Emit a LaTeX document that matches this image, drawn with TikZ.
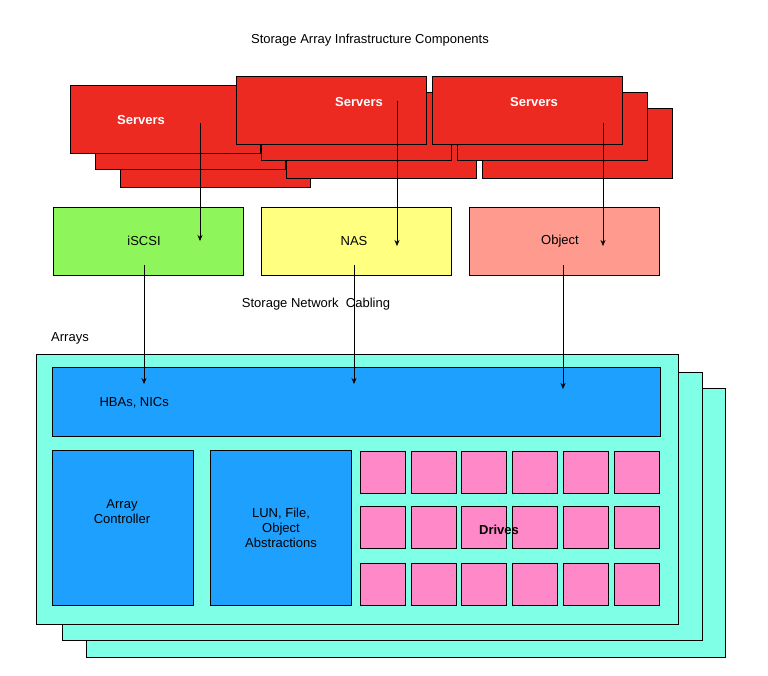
\documentclass[tikz,border=0pt]{standalone}
\usepackage{fontspec}
\setmainfont{Liberation Sans}
\usetikzlibrary{arrows.meta}
\definecolor{srvred}{HTML}{EC2A22}
\definecolor{iscsig}{HTML}{8EF55A}
\definecolor{nasy}{HTML}{FFFF80}
\definecolor{objr}{HTML}{FF9A8F}
\definecolor{arrc}{HTML}{7FFFE6}
\definecolor{hbab}{HTML}{1EA0FF}
\definecolor{drvp}{HTML}{FF88C8}
\begin{document}
\begin{tikzpicture}[x=1pt, y=-1pt, font=\fontsize{13}{15}\selectfont,
  box/.style={draw, line width=0.6pt},
  server/.style={box, fill=srvred},
  arr/.style={-{Stealth[length=6pt,width=5pt]}, line width=0.6pt}]
  \useasboundingbox (0,0) rectangle (768,675);
  \node (title) at (370,40) {Storage Array Infrastructure Components};
  % servers
  \foreach \gx/\gy/\tx/\ty in {70/85/141/120, 236/76/359/102, 432/76/534/102}{
    \draw[server] (\gx+50,\gy+32) rectangle +(190,70);
    \draw[server] (\gx+25,\gy+16) rectangle +(190,68);
    \draw[server] (\gx,\gy) rectangle +(190,68);
    \node[text=white, font=\fontsize{13}{15}\selectfont\bfseries] at (\tx,\ty) {Servers};
  }
  \coordinate (s1) at (200,123);
  \coordinate (s2) at (397,101);
  \coordinate (s3) at (603,123);
  % protocols
  \draw[box, fill=iscsig] (53,207) rectangle (243,275);
  \node (iscsi) at (144,241) {iSCSI};
  \draw[box, fill=nasy] (261,207) rectangle (451,275);
  \node (nas) at (354,241) {NAS};
  \draw[box, fill=objr] (469,207) rectangle (659,275);
  \node (obj) at (560,241) {Object};
  \node (cab) at (316,304) {Storage Network\ \ Cabling};
  \node (arrays) at (70,338) {Arrays};
  % arrays
  \draw[box, fill=arrc] (86,388) rectangle (725,657);
  \draw[box, fill=arrc] (62,372) rectangle (702,640);
  \draw[box, fill=arrc] (36,354) rectangle (678,624);
  \draw[box, fill=hbab] (52,367) rectangle (660,436);
  \node[anchor=west] (hba) at (96,403) {HBAs, NICs};
  \draw[box, fill=hbab] (52,450) rectangle (193,605);
  \node[align=center] (ctrl) at (122,512) {Array\\Controller};
  \draw[box, fill=hbab] (210,450) rectangle (351,605);
  \node[align=center] (lun) at (281,528) {LUN, File,\\Object\\Abstractions};
  \foreach \cx in {360,410.8,461.6,512.4,563.2,614}
    \foreach \cy in {451,506,563}
      \draw[box, fill=drvp] (\cx,\cy) rectangle +(45,42);
  \node[font=\fontsize{13}{15}\selectfont\bfseries] (drives) at (499,530) {Drives};
  % connectors
  \coordinate (h1) at (144,384);
  \coordinate (h2) at (354,384);
  \coordinate (h3) at (563,389);
  \draw[arr] (s1) -- (200,241);
  \draw[arr] (s2) -- (397,246);
  \draw[arr] (s3) -- (603,246);
  \draw[arr] (144,265) -- (h1);
  \draw[arr] (354,265) -- (h2);
  \draw[arr] (563,265) -- (h3);
\end{tikzpicture}
\end{document}
